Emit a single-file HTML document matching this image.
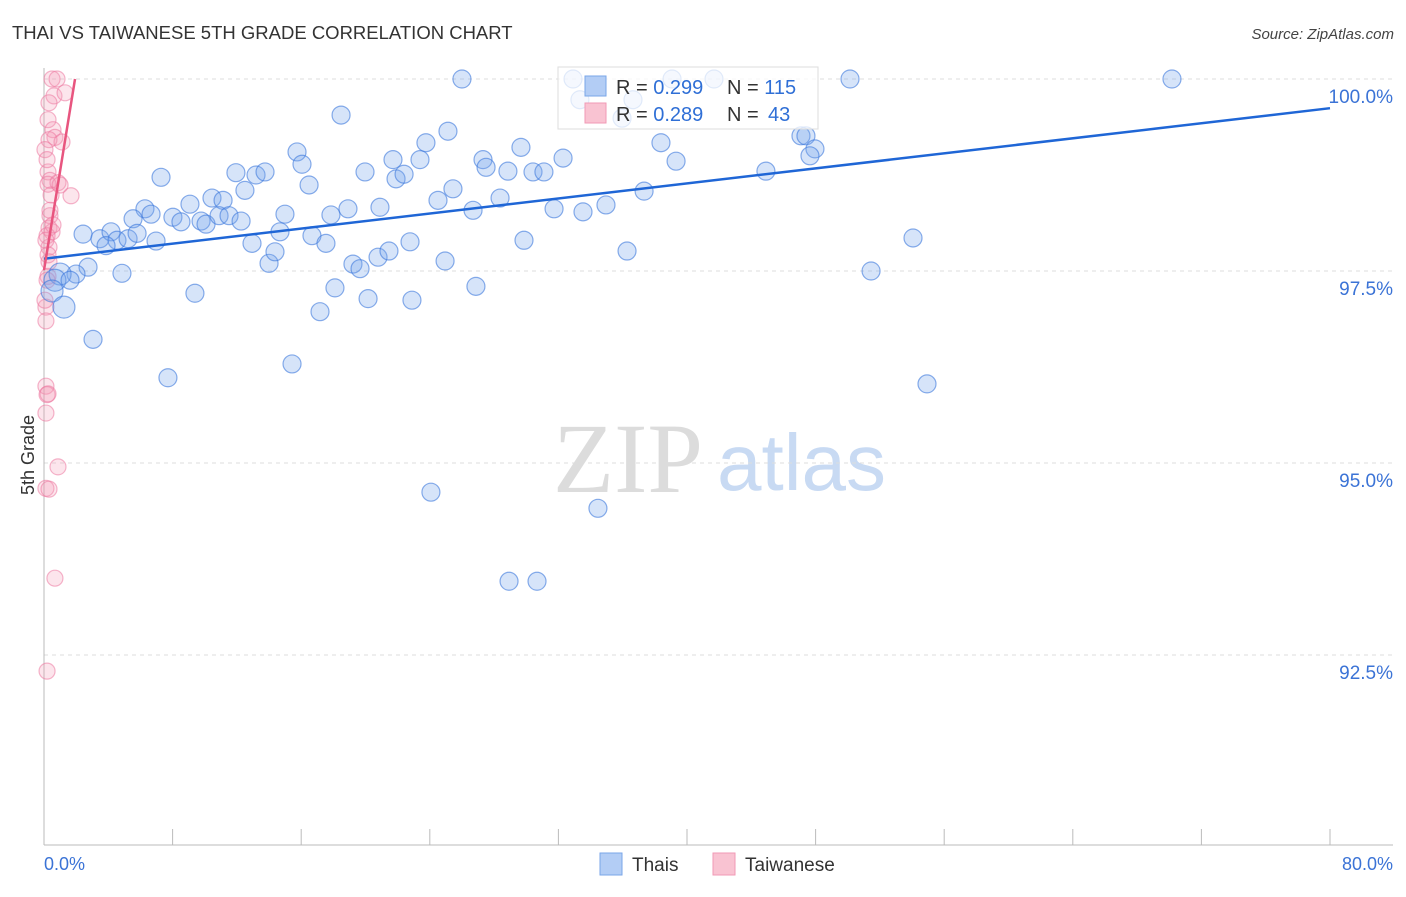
<!DOCTYPE html>
<html><head><meta charset="utf-8"><style>
body{margin:0;background:#fff;font-family:"Liberation Sans",sans-serif;}
</style></head><body>
<svg id="chart" width="1406" height="892" xmlns="http://www.w3.org/2000/svg" font-family="Liberation Sans, sans-serif">
<text x="12" y="39" font-size="18.5" fill="#333">THAI VS TAIWANESE 5TH GRADE CORRELATION CHART</text>
<text x="1394" y="39" font-size="15" fill="#444" font-style="italic" text-anchor="end">Source: ZipAtlas.com</text>
<g>
<text x="553" y="492" font-size="100" style="font-family:'Liberation Serif',serif" fill="#dcdcdc">ZIP</text>
<text x="717" y="490" font-size="80" fill="#c8daf3">atlas</text>
</g>
<g id="grid"></g>
<g id="axes"></g>
<g id="pinkpts"></g>
<g id="bluepts"></g>
<g id="lines"></g>
<text transform="translate(34,455) rotate(-90)" font-size="18" fill="#333" text-anchor="middle">5th Grade</text>
<g>
<rect x="558" y="67" width="260" height="62" fill="rgba(255,255,255,0.75)" stroke="#ddd"/>
<rect x="585" y="76" width="21" height="20" fill="#b3cdf5" stroke="#7aa6e8"/>
<rect x="585" y="103" width="21" height="20" fill="#f9c3d2" stroke="#f19ab5"/>
<text x="616" y="94" font-size="20" fill="#333">R = <tspan fill="#2f6fd6">0.299</tspan><tspan x="727">N = </tspan><tspan fill="#2f6fd6">115</tspan></text>
<text x="616" y="121" font-size="20" fill="#333">R = <tspan fill="#2f6fd6">0.289</tspan><tspan x="727">N = </tspan><tspan x="768" fill="#2f6fd6">43</tspan></text>
</g>
<g>
<rect x="600" y="853" width="22" height="22" fill="#b3cdf5" stroke="#7aa6e8"/>
<text x="632" y="871" font-size="19" fill="#333">Thais</text>
<rect x="713" y="853" width="22" height="22" fill="#f9c3d2" stroke="#f19ab5"/>
<text x="745" y="871" font-size="19" fill="#333">Taiwanese</text>
</g>
</svg>
<script>
const yTicks=[100,97.5,95,92.5];
const yTickLabels=["100.0%","97.5%","95.0%","92.5%"];
const xTickCount=10;
const xLabels=["0.0%","80.0%"];
const thaiX=[26.0,32.91,39.07,41.68,50.14,70.17,33.34,36.64,35.96,18.48,25.13,23.76,29.67,15.74,16.05,21.71,23.39,27.31,27.50,32.29,28.86,30.42,31.10,39.32,38.38,47.09,47.40,47.96,47.65,44.91,7.28,11.94,13.19,13.75,19.97,21.90,22.40,16.49,25.44,24.51,26.69,28.37,31.73,33.53,34.96,37.33,10.45,11.14,9.08,6.28,6.66,5.54,8.02,8.52,9.77,10.08,10.89,11.51,12.26,14.99,17.85,18.91,20.90,12.50,2.43,3.48,4.17,4.54,3.86,5.23,5.79,6.97,12.94,14.68,16.67,17.54,14.00,14.37,19.22,19.66,20.78,21.46,22.77,24.95,29.86,36.27,54.06,51.45,2.74,4.85,1.99,1.00,0.68,1.62,0.50,1.24,9.39,17.17,18.10,20.16,22.89,26.87,3.05,7.71,15.43,54.93,24.07,34.46,28.93,30.67];
const thaiY=[100,100,100,100,100,100,99.73,99.73,99.49,99.53,99.32,99.17,99.11,99.05,98.89,98.95,98.95,98.95,98.85,98.97,98.80,98.79,98.79,98.93,99.17,99.26,99.26,99.09,99.00,98.80,98.72,98.78,98.75,98.79,98.79,98.70,98.76,98.62,98.57,98.42,98.29,98.45,98.31,98.27,98.36,98.54,98.45,98.42,98.37,98.31,98.24,98.18,98.20,98.14,98.15,98.11,98.22,98.22,98.15,98.24,98.23,98.31,98.33,98.55,97.98,97.92,98.01,97.90,97.83,97.92,97.99,97.89,97.86,98.01,97.96,97.86,97.60,97.75,97.59,97.53,97.68,97.76,97.88,97.63,97.90,97.76,97.93,97.50,97.55,97.47,97.46,97.46,97.38,97.38,97.24,97.03,97.21,96.97,97.28,97.14,97.12,97.30,96.61,96.11,96.29,96.03,94.62,94.41,93.46,93.46];
const taiX=[0.50,0.81,0.62,1.31,0.31,0.25,0.56,0.68,0.31,1.12,0.25,0.37,0.25,0.87,0.44,1.68,0.37,0.31,0.50,0.19,0.31,0.31,0.25,0.19,0.12,0.12,0.12,0.19,0.25,0.12,0.87,0.12,0.31,0.68,0.19,0.06,0.19,0.37,0.12,1.00,0.06,0.25,0.56];
const taiY=[100,100,99.78,99.82,99.69,99.47,99.34,99.24,99.21,99.18,98.79,98.68,98.63,98.65,98.49,98.48,98.22,98.06,98.01,97.96,97.81,97.62,97.43,97.38,97.03,96.85,96.00,95.89,95.90,95.65,94.95,94.67,94.66,93.50,92.29,99.08,98.95,98.29,97.90,98.62,97.12,97.71,98.10];
const thaiTrendX=[0,80], thaiTrendY=[97.66,99.62];
const taiTrendX=[0,1.93], taiTrendY=[97.51,100];
const X0=44,X1=1330,XMAX=80;
const xs=v=>X0+v/XMAX*(X1-X0);
const ys=v=>79+(100-v)/2.5*192;
const NS="http://www.w3.org/2000/svg";
function mk(tag,attrs,parent){const e=document.createElementNS(NS,tag);for(const k in attrs)e.setAttribute(k,attrs[k]);document.getElementById(parent).appendChild(e);return e;}
yTicks.forEach((t,i)=>{
 const l=mk('line',{x1:44,x2:1393,y1:ys(t),y2:ys(t),stroke:'#ddd','stroke-dasharray':'4,4'},'grid');
 
 
 const tx=mk('text',{x:1393,y:ys(t)+24,'font-size':19,fill:'#3b73d6','text-anchor':'end'},'grid');
 tx.textContent=yTickLabels[i];
 
 
});
const ax=mk('line',{x1:44,x2:1393,y1:845,y2:845,stroke:'#bbb'},'axes');


const ay=mk('line',{x1:44,x2:44,y1:68,y2:845,stroke:'#bbb'},'axes');


for(let k=0;k<=xTickCount;k++){
 const tk=mk('line',{x1:xs(k*XMAX/xTickCount),x2:xs(k*XMAX/xTickCount),y1:829,y2:845,stroke:'#bbb'},'axes');
 
 
}
const xl0=mk('text',{x:44,y:870,'font-size':18,fill:'#3b73d6'},'axes');xl0.textContent=xLabels[0];


const xl1=mk('text',{x:1393,y:870,'font-size':18,fill:'#3b73d6','text-anchor':'end'},'axes');xl1.textContent=xLabels[1];


taiX.forEach((x,i)=>{
 const c=mk('circle',{cx:xs(x),cy:ys(taiY[i]),r:8,fill:'rgba(244,150,180,0.25)',stroke:'rgba(236,120,160,0.55)','stroke-width':1.2},'pinkpts');
 
 
});
thaiX.forEach((x,i)=>{
 const big=(x<1.3&&thaiY[i]<97.5);
 const c=mk('circle',{cx:xs(x),cy:ys(thaiY[i]),r:big?11:9,fill:'rgba(120,165,235,0.3)',stroke:'rgba(60,120,220,0.6)','stroke-width':1.2},'bluepts');
 
 
});
const tl=mk('line',{x1:xs(thaiTrendX[0]),y1:ys(thaiTrendY[0]),x2:xs(thaiTrendX[1]),y2:ys(thaiTrendY[1]),stroke:'#1f66d6','stroke-width':2.5},'lines');


const pl=mk('line',{x1:xs(taiTrendX[0]),y1:ys(taiTrendY[0]),x2:xs(taiTrendX[1]),y2:ys(taiTrendY[1]),stroke:'#e8557f','stroke-width':2.5},'lines');


</script>
</body></html>
